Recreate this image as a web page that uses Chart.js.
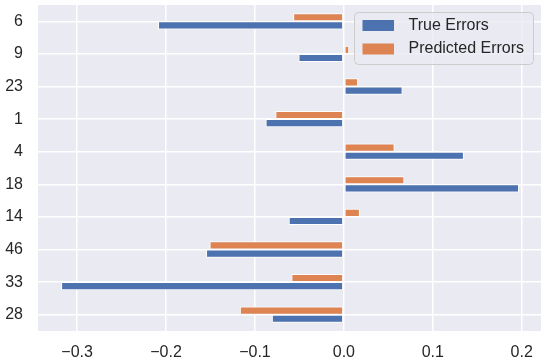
<!DOCTYPE html>
<html>
<head>
<meta charset="utf-8">
<script src="https://cdn.jsdelivr.net/npm/chart.js@4.4.1/dist/chart.umd.min.js"></script>
<style>
  html, body { margin: 0; padding: 0; background: #ffffff; }
  #wrap { width: 547px; height: 363px; }
</style>
</head>
<body>
<div id="wrap"><canvas id="errChart"></canvas></div>
<script>
// categories from top to bottom
const categories = ['6', '9', '23', '1', '4', '18', '14', '46', '33', '28'];
const trueErrors = [-0.209, -0.051, 0.066, -0.088, 0.135, 0.197, -0.062, -0.155, -0.318, -0.081];
const predictedErrors = [-0.057, 0.006, 0.016, -0.077, 0.057, 0.068, 0.018, -0.151, -0.059, -0.117];
const xTicks = [-0.3, -0.2, -0.1, 0.0, 0.1, 0.2];

const FONT = '"Liberation Sans", Arial, sans-serif';
const TEXT = '#262626';
const BLUE = '#4C72B0';
const ORANGE = '#DD8452';

// grey plot area background (seaborn look)
const plotBackground = {
    id: 'plotBackground',
    beforeDraw: (chart) => {
        const { ctx, chartArea: a } = chart;
        ctx.save();
        ctx.fillStyle = '#EAEAF2';
        ctx.fillRect(a.left, a.top, a.right - a.left, a.bottom - a.top);
        ctx.restore();
    }
};

// legend drawn inside the plot area, top right
const innerLegend = {
    id: 'innerLegend',
    afterDraw: (chart) => {
        const ctx = chart.ctx;
        const a = chart.chartArea;
        const items = [
            { text: 'True Errors', color: BLUE },
            { text: 'Predicted Errors', color: ORANGE }
        ];
        const right = a.right - 7.5, top = a.top + 7.5, w = 179, h = 52;
        const left = right - w;
        ctx.save();
        ctx.beginPath();
        ctx.roundRect(left, top, w, h, 4);
        ctx.fillStyle = 'rgba(234,234,242,0.8)';
        ctx.fill();
        ctx.strokeStyle = '#cccccc';
        ctx.lineWidth = 1;
        ctx.stroke();
        ctx.font = '16px ' + FONT;
        ctx.textBaseline = 'middle';
        items.forEach((it, i) => {
            const cy = top + 13 + i * 23.5;
            ctx.fillStyle = it.color;
            ctx.fillRect(left + 8, cy - 5.5, 31.5, 11);
            ctx.fillStyle = TEXT;
            ctx.fillText(it.text, left + 54, cy);
        });
        ctx.restore();
    }
};

function fmt(v) {
    if (Math.abs(v) < 1e-9) return '0.0';
    return (v < 0 ? '\u2212' : '') + Math.abs(v).toFixed(1);
}

new Chart(document.getElementById('errChart'), {
    type: 'bar',
    plugins: [plotBackground, innerLegend],
    data: {
        labels: categories,
        datasets: [
            // first so it sits above the blue bar in each group
            {
                label: 'Predicted Errors',
                data: predictedErrors,
                backgroundColor: ORANGE,
                borderColor: '#ffffff',
                borderWidth: 1,
                borderSkipped: false,
                categoryPercentage: 0.5,
                barPercentage: 1.0
            },
            {
                label: 'True Errors',
                data: trueErrors,
                backgroundColor: BLUE,
                borderColor: '#ffffff',
                borderWidth: 1,
                borderSkipped: false,
                categoryPercentage: 0.5,
                barPercentage: 1.0
            }
        ]
    },
    options: {
        indexAxis: 'y',
        responsive: true,
        maintainAspectRatio: false,
        animation: false,
        layout: { padding: { top: 5, right: 6, left: 0, bottom: 0 } },
        plugins: {
            legend: { display: false },
            tooltip: { enabled: false }
        },
        scales: {
            x: {
                min: -0.344,
                max: 0.2217,
                afterFit: (s) => { s.height = 32; s.paddingLeft = 0; s.paddingRight = 0; },
                afterBuildTicks: (s) => { s.ticks = xTicks.map(v => ({ value: v })); },
                ticks: {
                    callback: (v) => fmt(v),
                    color: TEXT,
                    font: { family: FONT, size: 16 },
                    padding: 12,
                    maxRotation: 0
                },
                grid: { color: '#ffffff', lineWidth: 1.5, drawTicks: false },
                border: { display: false }
            },
            y: {
                afterFit: (s) => { s.width = 38; s.paddingTop = 0; s.paddingBottom = 0; },
                ticks: {
                    color: TEXT,
                    font: { family: FONT, size: 16 },
                    padding: 15
                },
                grid: { color: '#ffffff', lineWidth: 1.5, drawTicks: false, offset: false },
                border: { display: false }
            }
        }
    }
});
</script>
</body>
</html>
